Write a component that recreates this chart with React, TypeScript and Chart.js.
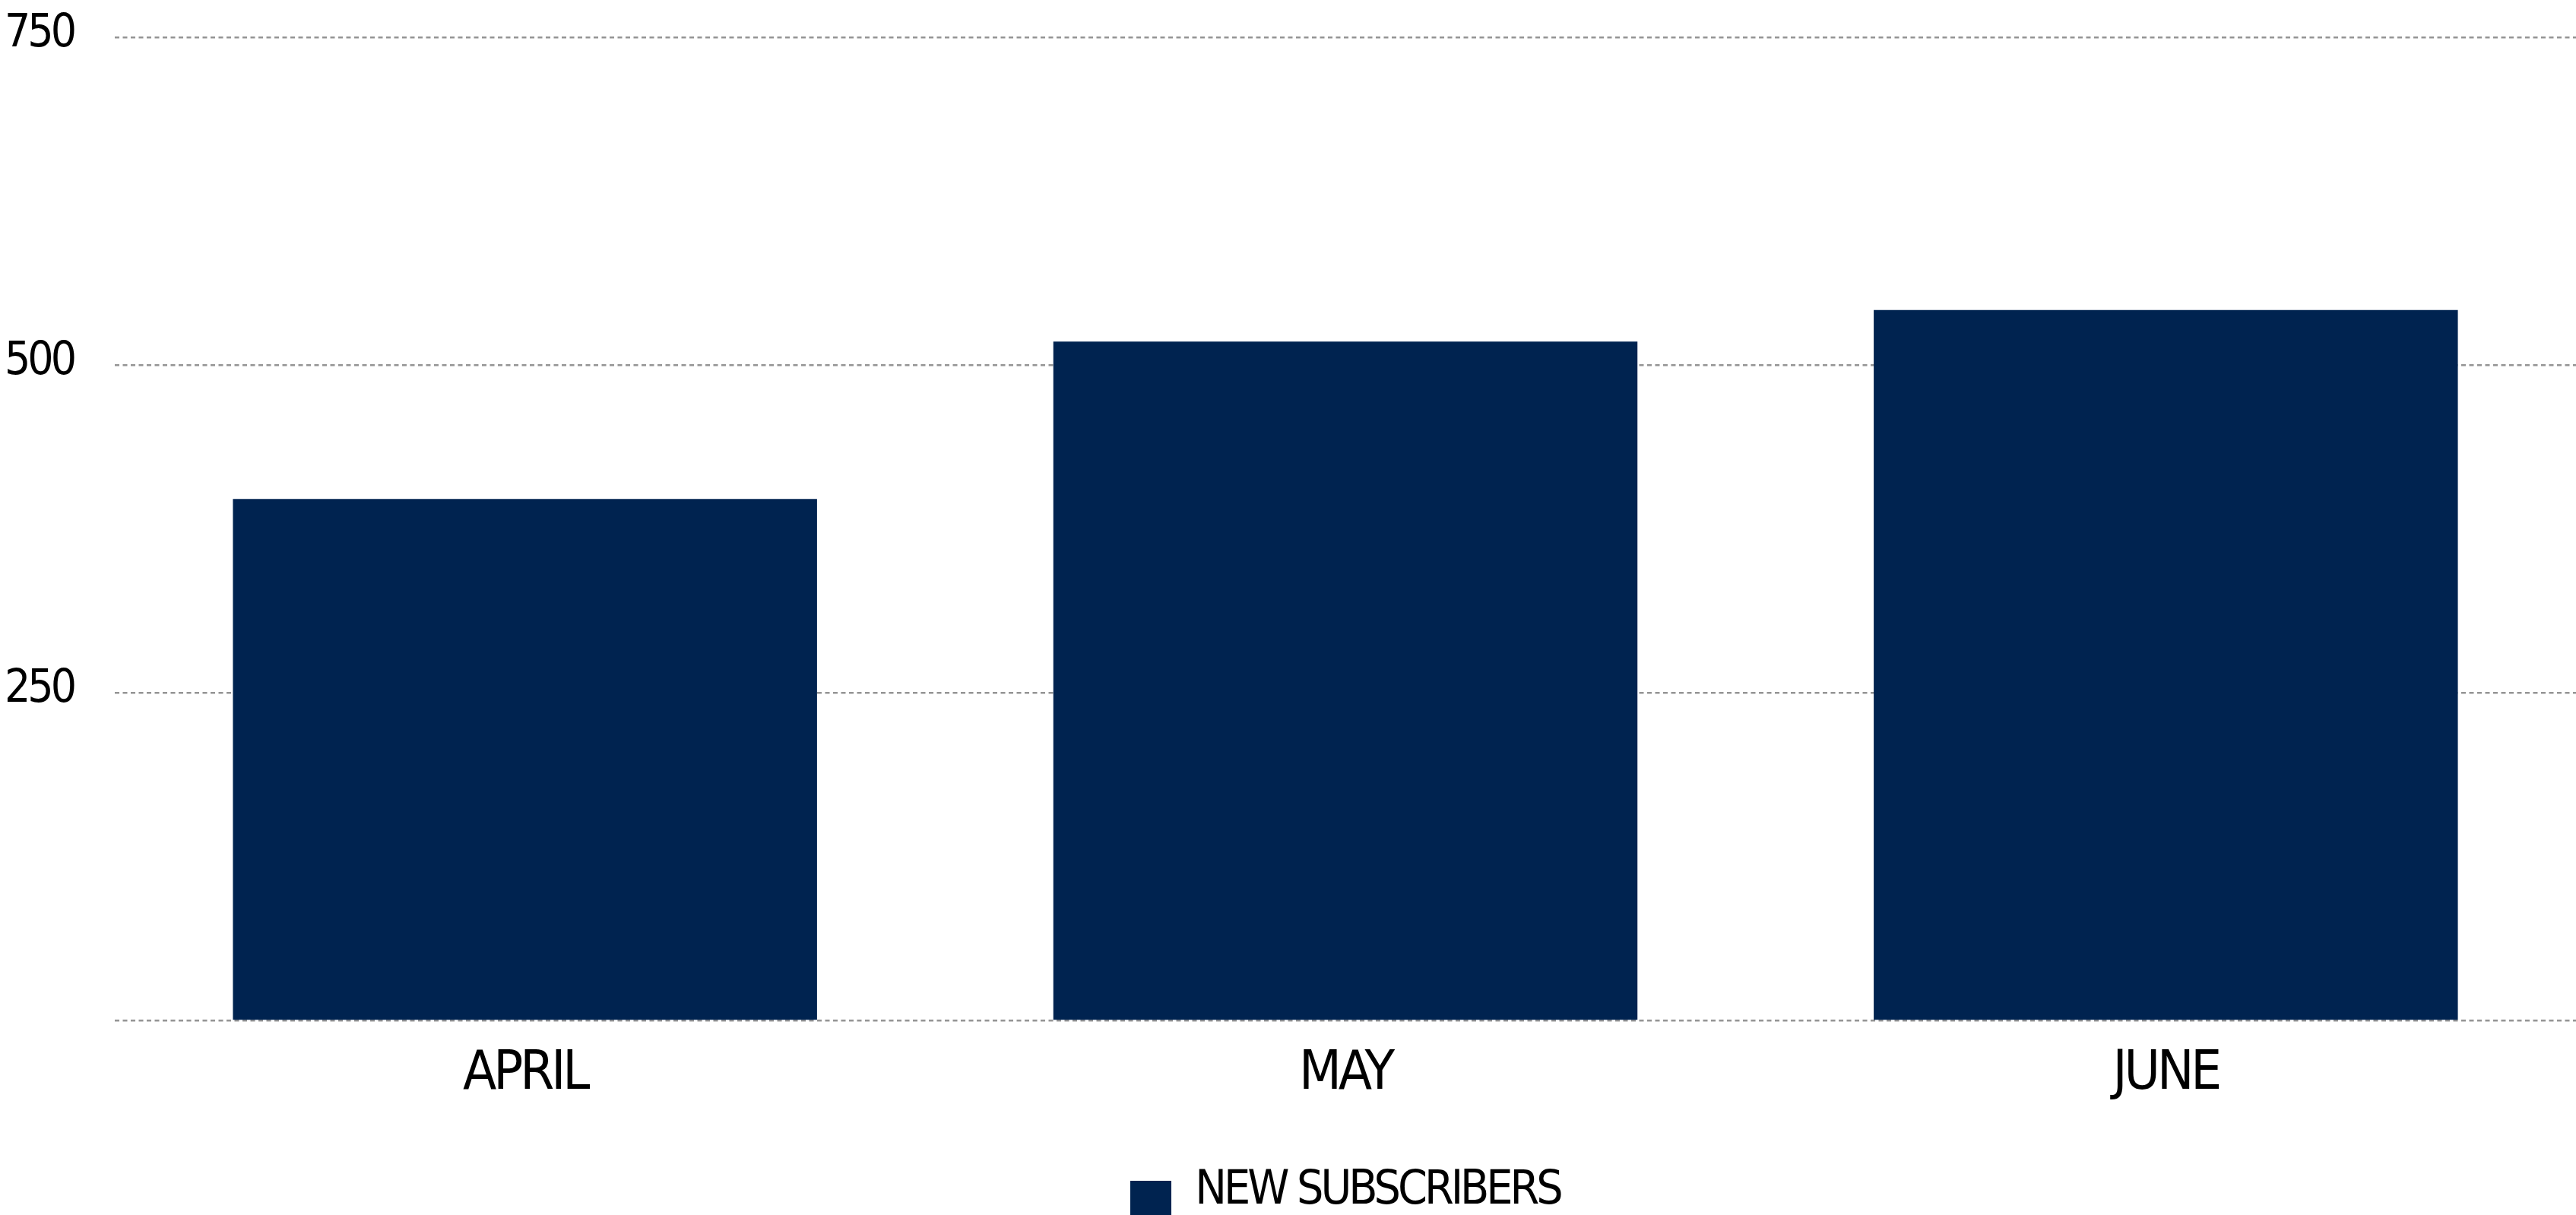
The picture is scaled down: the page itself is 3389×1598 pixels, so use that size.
import React, { useEffect, useRef } from 'react';
import { Chart, registerables } from 'chart.js';

Chart.register(...registerables);

const categories = ['APRIL', 'MAY', 'JUNE'];
const newSubscribers = [398, 518, 542];
const seriesLabel = 'NEW SUBSCRIBERS';
const yTickLabels = [250, 500, 750];
const yMin = 0;
const yMax = 750;
const yStep = 250;

const BAR_COLOR = '#002350';
const GRID_COLOR = '#949494';
const FONT = "'DejaVu Sans Condensed', 'Liberation Sans Narrow', sans-serif";
const LETTER_SPACING = '-4px';

const condensePlugin = {
  id: 'condenseText',
  beforeUpdate(chart: any) {
    chart.ctx.letterSpacing = LETTER_SPACING;
  },
  beforeLayout(chart: any) {
    chart.ctx.letterSpacing = LETTER_SPACING;
  },
  beforeDraw(chart: any) {
    chart.ctx.letterSpacing = LETTER_SPACING;
  },
};

export default function App() {
  const ref = useRef<HTMLCanvasElement>(null);

  useEffect(() => {
    const marker = document.createElement('canvas');
    marker.width = 54;
    marker.height = 80;
    const mctx = marker.getContext('2d')!;
    mctx.fillStyle = BAR_COLOR;
    mctx.fillRect(0, 26, 54, 54);

    const chart = new Chart(ref.current!, {
      type: 'bar',
      data: {
        labels: categories,
        datasets: [
          {
            label: seriesLabel,
            data: newSubscribers,
            backgroundColor: BAR_COLOR,
            borderWidth: 0,
            categoryPercentage: 0.8,
            barPercentage: 0.89,
          },
        ],
      },
      plugins: [condensePlugin],
      options: {
        animation: false,
        responsive: false,
        maintainAspectRatio: false,
        layout: { padding: { top: 49, left: 0, right: 0, bottom: 0 } },
        plugins: {
          legend: {
            position: 'bottom',
            fullSize: false,
            labels: {
              usePointStyle: true,
              pointStyle: marker as any,
              boxWidth: 54,
              boxHeight: 54,
              padding: 53,
              color: '#000',
              font: { family: FONT, size: 62 },
            },
          },
          tooltip: { enabled: false },
        },
        scales: {
          x: {
            grid: { display: false, drawTicks: false },
            border: { display: false },
            ticks: { padding: 27, color: '#000', font: { family: FONT, size: 72 } },
          },
          y: {
            min: yMin,
            max: yMax,
            ticks: {
              stepSize: yStep,
              padding: 0,
              labelOffset: -4,
              color: '#000',
              font: { family: FONT, size: 60 },
              callback: (v: any) => (yTickLabels.includes(Number(v)) ? String(v) : ''),
            },
            grid: {
              color: GRID_COLOR,
              lineWidth: 2.5,
              drawTicks: true,
              tickLength: 54,
              tickColor: 'rgba(0,0,0,0)',
            },
            border: { display: false, dash: [6, 4.5] },
            afterFit: (s: any) => {
              s.width = 151;
            },
          },
        },
      },
    });
    return () => chart.destroy();
  }, []);

  return (
    <div
      style={{
        position: 'fixed',
        left: 0,
        top: 0,
        width: 3389,
        height: 1598,
        overflow: 'hidden',
        background: '#fff',
      }}
    >
      <canvas ref={ref} width={3389} height={1608} style={{ display: 'block', width: 3389, height: 1608 }} />
    </div>
  );
}
